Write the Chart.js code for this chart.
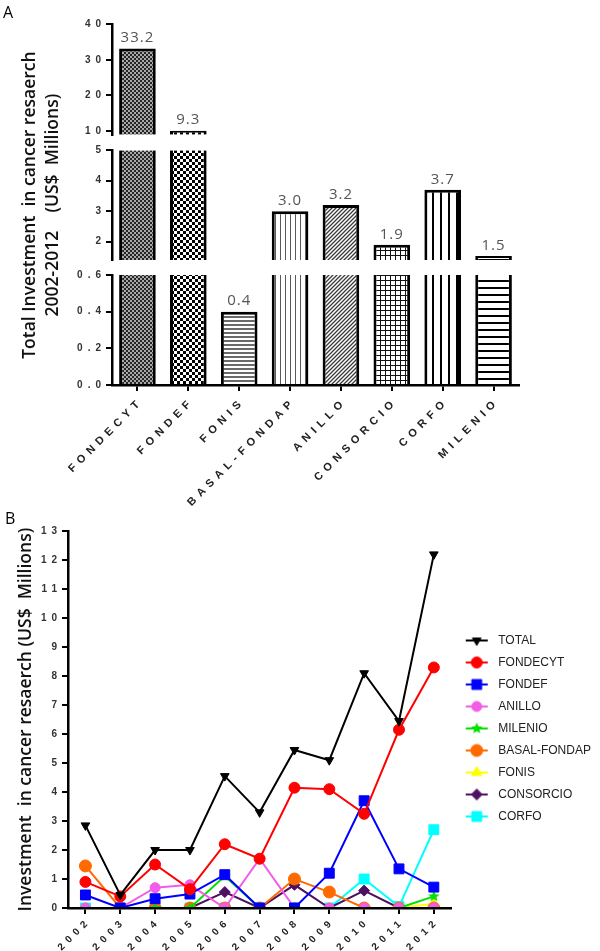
<!DOCTYPE html>
<html>
<head>
<meta charset="utf-8">
<script src="https://cdn.jsdelivr.net/npm/chart.js@4.4.1/dist/chart.umd.min.js"></script>
<style>
  html, body { margin: 0; padding: 0; background: #fff; }
  canvas { display: block; }
</style>
</head>
<body>
<canvas id="barChart" width="600" height="506"></canvas>
<canvas id="lineChart" width="600" height="445"></canvas>
<script>
// ---- panel A data ----
const programs = ['FONDECYT', 'FONDEF', 'FONIS', 'BASAL-FONDAP', 'ANILLO', 'CONSORCIO', 'CORFO', 'MILENIO'];
const totals = [33.2, 9.3, 0.4, 3.0, 3.2, 1.9, 3.7, 1.5];
const topTicks = [10, 20, 30, 40];
const midTicks = [2, 3, 4, 5];
const lowTicks = [0, 0.2, 0.4, 0.6];

// ---- panel B data ----
const years = ['2002', '2003', '2004', '2005', '2006', '2007', '2008', '2009', '2010', '2011', '2012'];
const seriesNames = ['TOTAL', 'FONDECYT', 'FONDEF', 'ANILLO', 'MILENIO', 'BASAL-FONDAP', 'FONIS', 'CONSORCIO', 'CORFO'];
const totalByYear     = [2.85, 0.45, 2.0, 2.0, 4.55, 3.3, 5.45, 5.1, 8.1, 6.45, 12.2];
const fondecytByYear  = [0.9, 0.4, 1.5, 0.65, 2.2, 1.7, 4.15, 4.1, 3.25, 6.15, 8.3];
const fondefByYear    = [0.45, 0, 0.32, 0.48, 1.15, 0, 0, 1.2, 3.7, 1.35, 0.72];
const anilloByYear    = [0, 0, 0.7, 0.8, 0, 1.7, 0, 0, 0, 0, 0];
const milenioByYear   = [0, 0, 0, 0, 1.1, 0, 0, 0, 0, 0, 0.4];
const basalByYear     = [1.45, 0, 0, 0, 0, 0, 1.0, 0.55, 0, 0, 0];
const fonisByYear     = [0, 0, 0, 0, 0, 0, 0, 0, 0, 0, 0.15];
const consorcioByYear = [0, 0, 0, 0, 0.55, 0, 0.8, 0, 0.6, 0, 0];
const corfoByYear     = [0, 0, 0, 0, 0, 0, 0, 0, 1.0, 0.05, 2.7];
const seriesValues = [totalByYear, fondecytByYear, fondefByYear, anilloByYear, milenioByYear,
                      basalByYear, fonisByYear, consorcioByYear, corfoByYear];

// fill patterns for the bars
function tile(w, h, paint) {
    const c = document.createElement('canvas');
    c.width = w; c.height = h;
    const g = c.getContext('2d');
    g.fillStyle = '#fff';
    g.fillRect(0, 0, w, h);
    paint(g);
    return g.createPattern(c, 'repeat');
}

const barPatterns = [
    tile(4, 4, g => { g.fillStyle = '#a8a8a8'; g.fillRect(0, 0, 4, 4); g.fillStyle = '#262626'; g.fillRect(0, 0, 2, 2); g.fillRect(2, 2, 2, 2); }),
    tile(6, 6, g => { g.fillStyle = '#000'; g.fillRect(0, 0, 3, 3); g.fillRect(3, 3, 3, 3); }),
    tile(1, 4, g => { g.fillStyle = '#6a6a6a'; g.fillRect(0, 0, 1, 2); }),
    tile(5, 1, g => { g.fillStyle = '#5a5a5a'; g.fillRect(0, 0, 1, 1); }),
    tile(4, 4, g => {
        g.strokeStyle = '#3a3a3a'; g.lineWidth = 1.3; g.beginPath();
        g.moveTo(0, 4); g.lineTo(4, 0); g.moveTo(-1, 1); g.lineTo(1, -1); g.moveTo(3, 5); g.lineTo(5, 3);
        g.stroke();
    }),
    tile(5, 5, g => { g.fillStyle = '#111'; g.fillRect(0, 0, 5, 1); g.fillRect(0, 0, 1, 5); }),
    tile(8, 1, g => { g.fillStyle = '#000'; g.fillRect(0, 0, 2, 1); }),
    tile(1, 7, g => { g.fillStyle = '#000'; g.fillRect(0, 0, 1, 2); })
];

const tickFont = {family: 'Liberation Sans', size: 10, weight: 'bold'};
const catFont = {family: 'Liberation Sans', size: 11, weight: 'bold'};
const yearFont = {family: 'Liberation Sans', size: 10, weight: 'bold'};
const titleFont = {family: 'Open Sans', size: 17.5, weight: '600', lineHeight: 1.32};

// axis text in the reference is letter-spaced; tick labels are drawn after the datasets (z: 1)
const spacedTicks = {
    id: 'spacedTicks',
    afterDatasetsDraw(chart) { chart.ctx.letterSpacing = '5px'; },
    afterDraw(chart) { chart.ctx.letterSpacing = '0px'; }
};

// ---- panel A: broken y axis, one bar dataset per segment ----
const segments = [
    {id: 'yTop', min: 9, max: 40, ticks: topTicks, digits: 0, weight: 110.5},
    {id: 'yMid', min: 1.4, max: 5, ticks: midTicks, digits: 0, weight: 110},
    {id: 'yLow', min: 0, max: 0.6, ticks: lowTicks, digits: 1, weight: 110}
];

function segmentAxis(seg) {
    return {
        type: 'linear', position: 'left', stack: 'broken', stackWeight: seg.weight,
        min: seg.min, max: seg.max,
        afterBuildTicks(axis) { axis.ticks = seg.ticks.map(value => ({value})); },
        afterFit(axis) { axis.width = 109; },
        grid: {drawOnChartArea: false, color: '#000', lineWidth: 2, tickLength: 6},
        border: {color: '#000', width: 2.5, z: 1},
        ticks: {color: '#333', font: tickFont, padding: 0, z: 1, callback: v => v.toFixed(seg.digits)},
        title: {
            display: seg.id === 'yMid',
            text: ['Total Investment  in cancer resaerch', '2002-2012    (US$  Millions)'],
            color: '#111', font: titleFont, padding: {top: 15, bottom: 0}
        }
    };
}

function gapAxis(weight) {
    return {
        type: 'linear', position: 'left', stack: 'broken', stackWeight: weight, min: 0, max: 1,
        afterFit(axis) { axis.width = 109; },
        grid: {display: false}, border: {display: false}, ticks: {display: false}
    };
}

const scalesA = {
    x: {
        grid: {drawOnChartArea: false, offset: false, color: '#000', lineWidth: 2, tickLength: 6},
        border: {color: '#000', width: 2.5, z: 1},
        ticks: {color: '#222', font: catFont, minRotation: 45, maxRotation: 45,
                padding: 4, labelOffset: 4, autoSkip: false, z: 1},
        afterFit(axis) { axis.height = 121; }
    },
    yLow: segmentAxis(segments[2]),
    gapLow: gapAxis(15),
    yMid: segmentAxis(segments[1]),
    gapMid: gapAxis(15.5),
    yTop: segmentAxis(segments[0])
};

const barDatasets = segments.map(seg => ({
    label: seg.id,
    yAxisID: seg.id,
    data: totals.map(v => v < seg.min ? null : [seg.min, Math.min(v, seg.max)]),
    grouped: false,
    backgroundColor: barPatterns,
    borderColor: '#000',
    borderSkipped: false,
    borderWidth: ctx => ({left: 3, right: 3, bottom: 0, top: totals[ctx.dataIndex] <= seg.max ? 3 : 0}),
    minBarLength: 4,
    barPercentage: 0.9,
    categoryPercentage: 0.8
}));

const valueLabels = {
    id: 'valueLabels',
    afterDatasetsDraw(chart) {
        const ctx = chart.ctx;
        ctx.save();
        ctx.font = '15px "Open Sans"';
        ctx.fillStyle = '#555';
        ctx.textAlign = 'center';
        ctx.textBaseline = 'bottom';
        ctx.letterSpacing = '1px';
        segments.forEach((seg, s) => {
            const meta = chart.getDatasetMeta(s);
            totals.forEach((v, i) => {
                if (v < seg.min || v > seg.max) return;
                const bar = meta.data[i];
                ctx.fillText(v.toFixed(1), bar.x, bar.y - 3);
            });
        });
        ctx.restore();
    }
};

new Chart(document.getElementById('barChart'), {
    type: 'bar',
    data: {labels: programs, datasets: barDatasets},
    options: {
        responsive: false,
        animation: false,
        layout: {padding: {left: 3, right: 81, top: 0, bottom: 0}},
        plugins: {
            legend: {display: false},
            tooltip: {enabled: false},
            title: {display: true, text: 'A', align: 'start', color: '#000',
                    font: {family: 'Open Sans', size: 16, weight: 'normal'}, padding: {top: 4, bottom: 1}}
        },
        scales: scalesA
    },
    plugins: [valueLabels, spacedTicks]
});

// ---- panel B: line chart ----
function starImage(color, r) {
    const size = Math.ceil(r * 2 + 2);
    const c = document.createElement('canvas');
    c.width = size; c.height = size;
    const g = c.getContext('2d');
    g.fillStyle = color;
    g.beginPath();
    for (let k = 0; k < 10; k++) {
        const rad = k % 2 === 0 ? r : r * 0.45;
        const a = -Math.PI / 2 + k * Math.PI / 5;
        g.lineTo(size / 2 + rad * Math.cos(a), size / 2 + rad * Math.sin(a));
    }
    g.closePath();
    g.fill();
    return c;
}

const seriesStyles = [
    {color: '#000000', pointStyle: 'triangle', rotation: 180, radius: 5},
    {color: '#ff0000', pointStyle: 'circle', rotation: 0, radius: 5.5},
    {color: '#0000ff', pointStyle: 'rect', rotation: 0, radius: 7},
    {color: '#f25ce6', pointStyle: 'circle', rotation: 0, radius: 5},
    {color: '#00e000', pointStyle: starImage('#00e000', 6), rotation: 0, radius: 5},
    {color: '#ff6a00', pointStyle: 'circle', rotation: 0, radius: 6},
    {color: '#ffff00', pointStyle: 'triangle', rotation: 0, radius: 6},
    {color: '#4e1060', pointStyle: 'rectRot', rotation: 0, radius: 5.5},
    {color: '#00ffff', pointStyle: 'rect', rotation: 0, radius: 7}
];

// legend glyph: a short line with the series marker on it
function legendIcon(style) {
    const c = document.createElement('canvas');
    c.width = 24; c.height = 16;
    const g = c.getContext('2d');
    g.strokeStyle = style.color;
    g.fillStyle = style.color;
    g.lineWidth = 2;
    g.beginPath(); g.moveTo(1, 8); g.lineTo(23, 8); g.stroke();
    if (typeof style.pointStyle === 'object') {
        const img = style.pointStyle;
        g.drawImage(img, 12 - img.width / 2, 8 - img.height / 2);
    } else if (Chart.helpers && Chart.helpers.drawPoint) {
        g.lineWidth = 1;
        Chart.helpers.drawPoint(g, {pointStyle: style.pointStyle, rotation: style.rotation,
                                    radius: style.radius, borderWidth: 1}, 12, 8);
    } else {
        g.beginPath(); g.arc(12, 8, 5, 0, Math.PI * 2); g.fill();
    }
    return c;
}
const legendIcons = seriesStyles.map(legendIcon);

const lineDatasets = seriesNames.map((name, i) => ({
    label: name,
    data: seriesValues[i],
    borderColor: seriesStyles[i].color,
    backgroundColor: seriesStyles[i].color,
    borderWidth: 2,
    tension: 0,
    pointStyle: seriesStyles[i].pointStyle,
    pointRotation: seriesStyles[i].rotation,
    pointRadius: seriesStyles[i].radius,
    pointBorderWidth: 1,
    pointBackgroundColor: seriesStyles[i].color,
    pointBorderColor: seriesStyles[i].color
}));

new Chart(document.getElementById('lineChart'), {
    type: 'line',
    data: {labels: years, datasets: lineDatasets},
    options: {
        responsive: false,
        animation: false,
        layout: {padding: {left: 5, right: 0, top: 0, bottom: 0}},
        plugins: {
            tooltip: {enabled: false},
            title: {display: true, text: 'B', align: 'start', color: '#000',
                    font: {family: 'Open Sans', size: 16, weight: 'normal'}, padding: {top: 4, bottom: 2}},
            legend: {
                position: 'right',
                labels: {
                    usePointStyle: true,
                    pointStyleWidth: 31,
                    padding: 10,
                    color: '#222',
                    font: {family: 'Liberation Sans', size: 12},
                    generateLabels(chart) {
                        const items = Chart.defaults.plugins.legend.labels.generateLabels(chart);
                        return items.map((item, i) => Object.assign(item, {pointStyle: legendIcons[i], rotation: 0}));
                    }
                }
            }
        },
        scales: {
            x: {
                offset: true,
                grid: {drawOnChartArea: false, offset: false, color: '#000', lineWidth: 2, tickLength: 6},
                border: {color: '#000', width: 2.5, z: 1},
                ticks: {color: '#222', font: yearFont, minRotation: 45, maxRotation: 45,
                        padding: 1, labelOffset: 4, autoSkip: false, z: 1},
                afterFit(axis) { axis.height = 43; }
            },
            y: {
                min: 0, max: 13,
                ticks: {stepSize: 1, color: '#333', font: tickFont, padding: 0, z: 1},
                grid: {drawOnChartArea: false, color: '#000', lineWidth: 2, tickLength: 6},
                border: {color: '#000', width: 2.5, z: 1},
                title: {display: true, text: 'Investment  in cancer resaerch (US$  Millions)',
                        color: '#111', font: titleFont, padding: {top: 9, bottom: 0}},
                afterFit(axis) { axis.width = 63; }
            }
        }
    },
    plugins: [spacedTicks]
});
</script>
</body>
</html>
